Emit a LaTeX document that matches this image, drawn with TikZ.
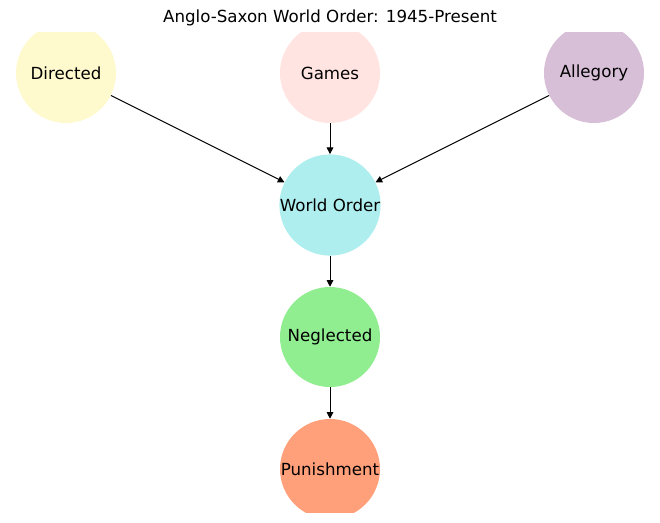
\documentclass[tikz,border=0pt]{standalone}
\usepackage{fontspec}
\setmainfont{DejaVu Sans}
\usetikzlibrary{arrows.meta}
\definecolor{cDirected}{HTML}{FFFACD}
\definecolor{cGames}{HTML}{FFE4E1}
\definecolor{cAllegory}{HTML}{D8BFD8}
\definecolor{cWorld}{HTML}{AFEEEE}
\definecolor{cNeglected}{HTML}{90EE90}
\definecolor{cPunish}{HTML}{FFA07A}
\tikzset{
  vertex/.style={circle, minimum size=75pt, inner sep=0pt, font=\fontsize{12.5pt}{15pt}\selectfont},
  edge/.style={draw=black, line width=0.75pt, -{Triangle[length=5pt,width=5pt]}},
}
\begin{document}
\begin{tikzpicture}[x=0.75pt,y=-0.75pt]
\useasboundingbox (0,0) rectangle (660,522);
\node[font=\fontsize{12.5pt}{15pt}\selectfont] (title) at (330,18) {Anglo-Saxon World Order: 1945-Present};
\begin{scope}
\clip (8,32) rectangle (652,512);
\node[vertex, fill=cDirected] (d) at (66,73) {Directed};
\node[vertex, fill=cGames] (g) at (330,73) {Games};
\node[vertex, fill=cAllegory] (a) at (594,73) {Allegory};
\node[vertex, fill=cWorld] (w) at (330,205) {World Order};
\node[vertex, fill=cNeglected] (n) at (330,337) {Neglected};
\node[vertex, fill=cPunish] (p) at (330,469) {Punishment};
\end{scope}
\draw[edge] (d) -- (w);
\draw[edge] (g) -- (w);
\draw[edge] (a) -- (w);
\draw[edge] (w) -- (n);
\draw[edge] (n) -- (p);
\end{tikzpicture}
\end{document}
